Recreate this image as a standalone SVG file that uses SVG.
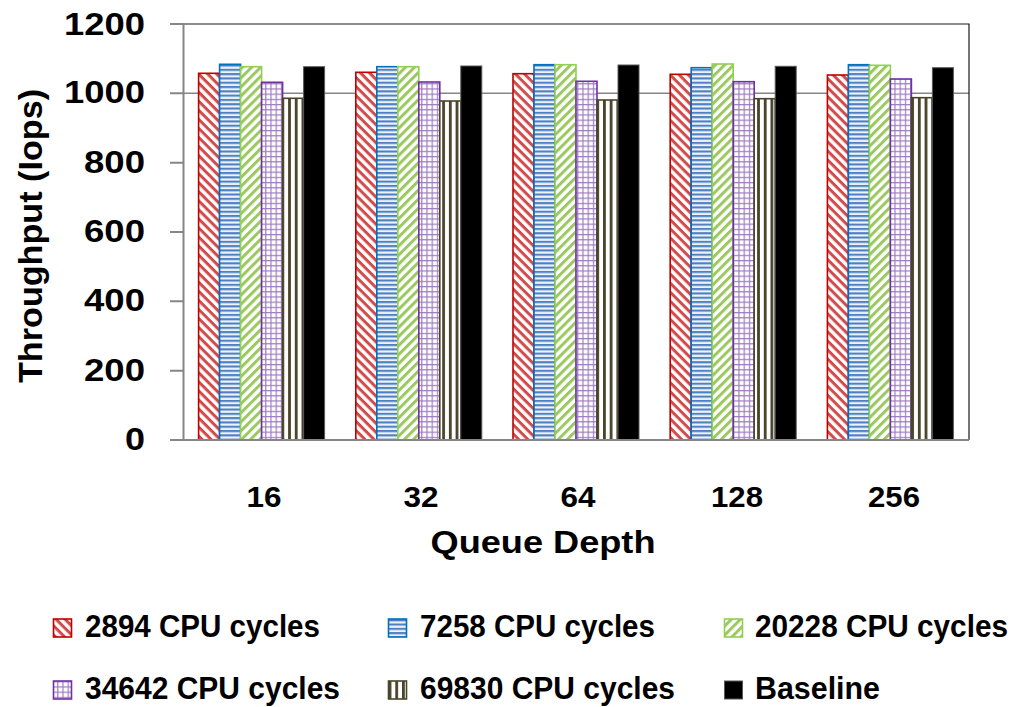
<svg xmlns="http://www.w3.org/2000/svg" width="1018" height="707" viewBox="0 0 1018 707">
  <style>
    text { font-family: "Liberation Sans", Arial, sans-serif; font-weight: bold; fill: #000; }
    .tick { font-size: 32px; text-anchor: end; }
    .cat { font-size: 29px; text-anchor: middle; }
    .leg { font-size: 30.5px; }
    .axis { stroke: #868686; stroke-width: 2; fill: none; }
    .frame { stroke: #1a1a1a; stroke-width: 1.2; fill: none; }
    .s1 { fill: url(#pRed); stroke: #c00000; stroke-width: 1.6; }
    .s2 { fill: url(#pBlue); stroke: #0070c0; stroke-width: 1.6; }
    .s3 { fill: url(#pGreen); stroke: #92d050; stroke-width: 1.6; }
    .s4 { fill: url(#pPurple); stroke: #7030a0; stroke-width: 1.6; }
    .s5 { fill: url(#pOlive); stroke: #4a452a; stroke-width: 1.6; }
    .s6 { fill: #000; stroke: #595959; stroke-width: 1; }
  </style>
  <defs>
    <!-- wide downward diagonal -->
    <pattern id="pRed" patternUnits="userSpaceOnUse" width="6.4" height="6.4" patternTransform="rotate(45)">
      <rect width="6.4" height="6.4" fill="#fff"/>
      <rect width="6.4" height="3" fill="#d24b4b"/>
    </pattern>
    <!-- horizontal stripes -->
    <pattern id="pBlue" patternUnits="userSpaceOnUse" width="8" height="4.3">
      <rect width="8" height="4.3" fill="#eef3fa"/>
      <rect width="8" height="2.1" fill="#4f81c2"/>
    </pattern>
    <!-- wide upward diagonal -->
    <pattern id="pGreen" patternUnits="userSpaceOnUse" width="6.4" height="6.4" patternTransform="rotate(-45)">
      <rect width="6.4" height="6.4" fill="#fff"/>
      <rect width="6.4" height="3" fill="#9bc860"/>
    </pattern>
    <!-- small grid -->
    <pattern id="pPurple" patternUnits="userSpaceOnUse" width="5.2" height="5.2">
      <rect width="5.2" height="5.2" fill="#fff"/>
      <rect width="5.2" height="1.2" fill="#9d7bc2"/>
      <rect width="1.2" height="5.2" fill="#9d7bc2"/>
    </pattern>
    <!-- vertical stripes -->
    <pattern id="pOlive" patternUnits="userSpaceOnUse" width="6.7" height="8">
      <rect width="6.7" height="8" fill="#fff"/>
      <rect width="2.8" height="8" fill="#4a452a"/>
    </pattern>
  </defs>

  <rect width="1018" height="707" fill="#fff"/>

  <!-- gridline at 1000 -->
  <line x1="183" y1="93.3" x2="969" y2="93.3" stroke="#868686" stroke-width="1.5"/>

  <!-- bars, one group per series -->
  <g id="series-2894">
    <rect class="s1" x="198.6" y="73.3" width="21" height="366.7"/>
    <rect class="s1" x="355.8" y="72.3" width="21" height="367.7"/>
    <rect class="s1" x="513.0" y="73.7" width="21" height="366.3"/>
    <rect class="s1" x="670.2" y="74.3" width="21" height="365.7"/>
    <rect class="s1" x="827.4" y="75.0" width="21" height="365.0"/>
  </g>
  <g id="series-7258">
    <rect class="s2" x="219.6" y="64.3" width="21" height="375.7"/>
    <rect class="s2" x="376.8" y="66.7" width="21" height="373.3"/>
    <rect class="s2" x="534.0" y="64.7" width="21" height="375.3"/>
    <rect class="s2" x="691.2" y="67.7" width="21" height="372.3"/>
    <rect class="s2" x="848.4" y="64.7" width="21" height="375.3"/>
  </g>
  <g id="series-20228">
    <rect class="s3" x="240.6" y="66.7" width="21" height="373.3"/>
    <rect class="s3" x="397.8" y="66.7" width="21" height="373.3"/>
    <rect class="s3" x="555.0" y="64.7" width="21" height="375.3"/>
    <rect class="s3" x="712.2" y="64.0" width="21" height="376.0"/>
    <rect class="s3" x="869.4" y="65.3" width="21" height="374.7"/>
  </g>
  <g id="series-34642">
    <rect class="s4" x="261.6" y="82.3" width="21" height="357.7"/>
    <rect class="s4" x="418.8" y="82.0" width="21" height="358.0"/>
    <rect class="s4" x="576.0" y="81.3" width="21" height="358.7"/>
    <rect class="s4" x="733.2" y="81.7" width="21" height="358.3"/>
    <rect class="s4" x="890.4" y="79.0" width="21" height="361.0"/>
  </g>
  <g id="series-69830">
    <rect class="s5" x="282.6" y="98.3" width="21" height="341.7"/>
    <rect class="s5" x="439.8" y="101.0" width="21" height="339.0"/>
    <rect class="s5" x="597.0" y="100.0" width="21" height="340.0"/>
    <rect class="s5" x="754.2" y="98.7" width="21" height="341.3"/>
    <rect class="s5" x="911.4" y="97.7" width="21" height="342.3"/>
  </g>
  <g id="series-baseline">
    <rect class="s6" x="303.6" y="66.7" width="21" height="373.3"/>
    <rect class="s6" x="460.8" y="66.0" width="21" height="374.0"/>
    <rect class="s6" x="618.0" y="65.0" width="21" height="375.0"/>
    <rect class="s6" x="775.2" y="66.3" width="21" height="373.7"/>
    <rect class="s6" x="932.4" y="67.7" width="21" height="372.3"/>
  </g>

  <!-- plot frame and axes -->
  <g id="axes">
    <polyline class="frame" points="183,24 969,24 969,440"/>
    <line class="axis" x1="183.5" y1="24" x2="183.5" y2="440"/>
    <line class="axis" x1="170" y1="440" x2="969" y2="440"/>
    <path class="axis" d="M170 24H183M170 93.3H183M170 162.7H183M170 232H183M170 301.3H183M170 370.7H183"/>
  </g>

  <!-- value axis labels -->
  <g id="y-ticks">
    <text class="tick" x="145" y="35" textLength="81" lengthAdjust="spacingAndGlyphs">1200</text>
    <text class="tick" x="145" y="103.3" textLength="81" lengthAdjust="spacingAndGlyphs">1000</text>
    <text class="tick" x="145" y="172.7" textLength="61" lengthAdjust="spacingAndGlyphs">800</text>
    <text class="tick" x="145" y="242" textLength="61" lengthAdjust="spacingAndGlyphs">600</text>
    <text class="tick" x="145" y="311.3" textLength="61" lengthAdjust="spacingAndGlyphs">400</text>
    <text class="tick" x="145" y="380.7" textLength="61" lengthAdjust="spacingAndGlyphs">200</text>
    <text class="tick" x="145" y="450" textLength="20" lengthAdjust="spacingAndGlyphs">0</text>
  </g>

  <!-- category labels -->
  <g id="x-ticks">
    <text class="cat" x="264" y="507" textLength="35" lengthAdjust="spacingAndGlyphs">16</text>
    <text class="cat" x="421" y="507" textLength="35" lengthAdjust="spacingAndGlyphs">32</text>
    <text class="cat" x="578" y="507" textLength="35" lengthAdjust="spacingAndGlyphs">64</text>
    <text class="cat" x="737" y="507" textLength="52" lengthAdjust="spacingAndGlyphs">128</text>
    <text class="cat" x="894" y="507" textLength="52" lengthAdjust="spacingAndGlyphs">256</text>
  </g>

  <text id="x-title" x="543" y="553" font-size="32" text-anchor="middle" textLength="225" lengthAdjust="spacingAndGlyphs">Queue Depth</text>
  <text id="y-title" transform="translate(42,236) rotate(-90)" font-size="33" text-anchor="middle" textLength="294" lengthAdjust="spacingAndGlyphs">Throughput (Iops)</text>

  <!-- legend -->
  <g id="legend-2894">
    <rect class="s1" x="53.5" y="619" width="18" height="18"/>
    <text class="leg" x="85" y="637" textLength="235" lengthAdjust="spacingAndGlyphs">2894 CPU cycles</text>
  </g>
  <g id="legend-7258">
    <rect class="s2" x="388.5" y="619" width="18" height="18"/>
    <text class="leg" x="420" y="637" textLength="235" lengthAdjust="spacingAndGlyphs">7258 CPU cycles</text>
  </g>
  <g id="legend-20228">
    <rect class="s3" x="724.5" y="619" width="18" height="18"/>
    <text class="leg" x="755" y="637" textLength="253" lengthAdjust="spacingAndGlyphs">20228 CPU cycles</text>
  </g>
  <g id="legend-34642">
    <rect class="s4" x="53.5" y="681" width="18" height="18"/>
    <text class="leg" x="85" y="699" textLength="255" lengthAdjust="spacingAndGlyphs">34642 CPU cycles</text>
  </g>
  <g id="legend-69830">
    <rect class="s5" x="388.5" y="681" width="18" height="18"/>
    <text class="leg" x="420" y="699" textLength="255" lengthAdjust="spacingAndGlyphs">69830 CPU cycles</text>
  </g>
  <g id="legend-baseline">
    <rect class="s6" x="724.5" y="681" width="18" height="18"/>
    <text class="leg" x="755" y="699" textLength="125" lengthAdjust="spacingAndGlyphs">Baseline</text>
  </g>
</svg>
